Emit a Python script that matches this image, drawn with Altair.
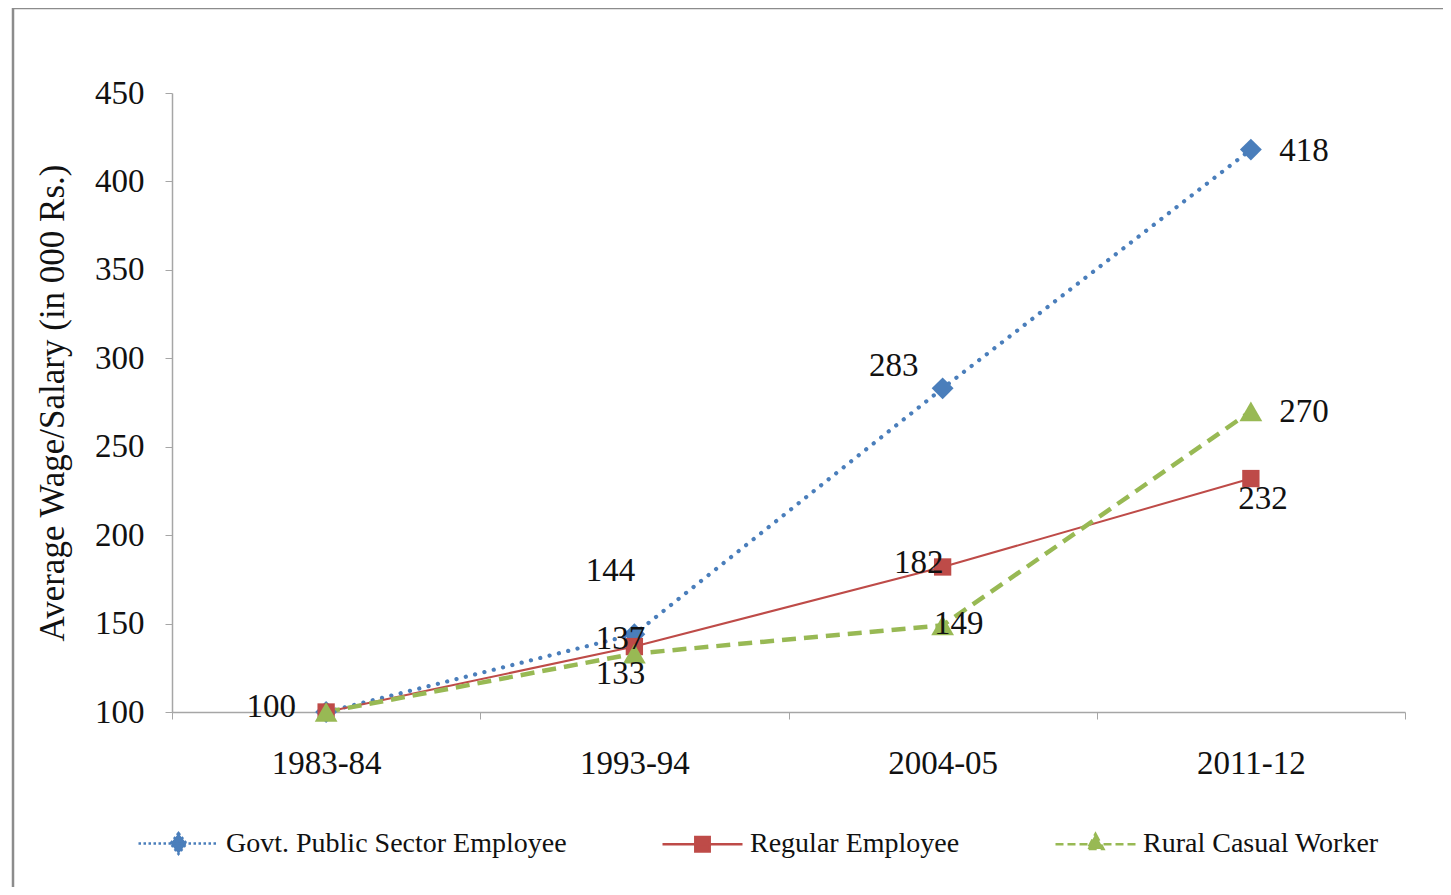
import altair as alt
import pandas as pd

periods = ["1983-84", "1993-94", "2004-05", "2011-12"]
series = ["Govt. Public Sector Employee", "Regular Employee", "Rural Casual Worker"]
govt = [100, 144, 283, 418]
regular = [100, 137, 182, 232]
rural = [100, 133, 149, 270]

colors = ["#4A7EBB", "#BE4B48", "#98B954"]
FONT = "Liberation Serif"

rows = []
for s, vals in zip(series, [govt, regular, rural]):
    for p, v in zip(periods, vals):
        rows.append({"series": s, "period": p, "value": v})
df = pd.DataFrame(rows)

# label placement (pixel offsets) -- annotation layout only
label_offsets = {
    (series[0], "1983-84"): (-55, -5),
    (series[0], "1993-94"): (-24, -63),
    (series[0], "2004-05"): (-49, -22),
    (series[0], "2011-12"): (53, 1),
    (series[1], "1993-94"): (-14, -8),
    (series[1], "2004-05"): (-24, -4),
    (series[1], "2011-12"): (12, 20),
    (series[2], "1993-94"): (-14, 20),
    (series[2], "2004-05"): (16, -1),
    (series[2], "2011-12"): (53, 1),
}

x_enc = alt.X("period:N", sort=periods,
              scale=alt.Scale(type="band", paddingInner=0, paddingOuter=0),
              axis=alt.Axis(title=None, tickBand="extent", tickSize=7, labelPadding=28,
                            labelFont=FONT, labelFontSize=33, labelColor="#111",
                            domainColor="#a6a6a6", tickColor="#a6a6a6", grid=False,
                            labelAngle=0, domainWidth=1.5))
y_enc = alt.Y("value:Q",
              scale=alt.Scale(domain=[100, 450], nice=False, zero=False),
              axis=alt.Axis(title="Average Wage/Salary (in 000 Rs.)", values=list(range(100, 451, 50)),
                            tickSize=7, labelPadding=21, labelFont=FONT, labelFontSize=33,
                            labelColor="#111", titleFont=FONT, titleFontSize=35,
                            titleFontWeight="normal", titleColor="#111", titlePadding=24,
                            domainColor="#a6a6a6", tickColor="#a6a6a6", grid=False,
                            domainWidth=1.5))

frame = alt.Chart(pd.DataFrame({"a": [0]})).mark_rect(
    fill="transparent", stroke="#8c8c8c", strokeWidth=2.5
).encode(x=alt.value(-159), x2=alt.value(1500), y=alt.value(-85), y2=alt.value(1000))

line_styles = [
    dict(strokeDash=[0.1, 9.5], strokeWidth=4.2, strokeCap="round"),
    dict(strokeWidth=2),
    dict(strokeDash=[14, 8], strokeWidth=4.5),
]
shapes = ["diamond", "square", "triangle-up"]
sizes = [480, 300, 520]

layers = [frame]
base = alt.Chart(df)
for s, c, st in zip(series, colors, line_styles):
    layers.append(base.transform_filter(alt.datum.series == s)
                  .mark_line(color=c, **st).encode(x=x_enc, y=y_enc))
for s, c, sh, sz in zip(series, colors, shapes, sizes):
    layers.append(base.transform_filter(alt.datum.series == s)
                  .mark_point(color=c, filled=True, opacity=1, shape=sh, size=sz)
                  .encode(x=x_enc, y=y_enc))

for (s, p), (dx, dy) in label_offsets.items():
    layers.append(base.transform_filter((alt.datum.series == s) & (alt.datum.period == p))
                  .mark_text(font=FONT, fontSize=33, color="#111", dx=dx, dy=dy,
                             align="center", baseline="middle")
                  .encode(x=x_enc, y=y_enc, text="value:Q"))

legend_paths = [
    "M-1,0H1M0,-0.26L0.2,0L0,0.26L-0.2,0Z",
    "M-1,0H1M-0.18,-0.18H0.18V0.18H-0.18Z",
    "M-1,0H1M0,-0.26L0.2,0.12L-0.2,0.12Z",
]
leg_scale_dom = series
legend_layer = alt.Chart(pd.DataFrame({"series": series})).mark_point(
    filled=True, size=6400, strokeWidth=2.5, opacity=1
).encode(
    x=alt.value(-3000), y=alt.value(-3000),
    fill=alt.Fill("series:N", scale=alt.Scale(domain=leg_scale_dom, range=colors), title=None),
    stroke=alt.Stroke("series:N", scale=alt.Scale(domain=leg_scale_dom, range=colors), title=None),
    shape=alt.Shape("series:N", scale=alt.Scale(domain=leg_scale_dom, range=legend_paths), title=None),
    strokeDash=alt.StrokeDash("series:N", scale=alt.Scale(domain=leg_scale_dom,
                                                          range=[[2.5, 2.5], [1, 0], [8, 4]]), title=None),
)
layers.append(legend_layer)

chart = alt.layer(*layers).properties(
    width=1233, height=619,
    padding={"left": 164, "top": 85, "right": 38, "bottom": 175},
    autosize=alt.AutoSizeParams(type="none"),
    background="white",
).configure_view(stroke=None).configure_legend(
    orient="none", legendX=-35, legendY=709, direction="horizontal",
    labelFont=FONT, labelFontSize=28, labelColor="#111", labelOffset=6,
    columnPadding=90, symbolSize=6400, symbolStrokeWidth=2.5, labelLimit=600,
)

chart.save("out.html", embed_options={"renderer": "svg", "actions": False})
